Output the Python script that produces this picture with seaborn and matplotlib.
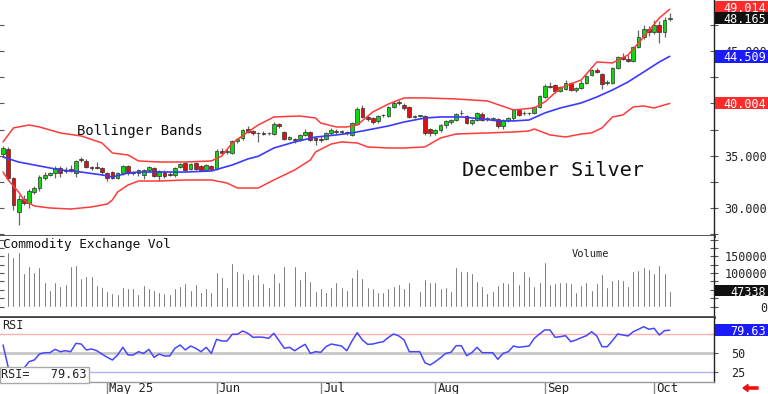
import numpy as np
import pandas as pd
import matplotlib
matplotlib.use("Agg")
import matplotlib.pyplot as plt
import seaborn as sns
from matplotlib.transforms import blended_transform_factory, ScaledTranslation
from matplotlib.patches import Rectangle

# ---------------- data ----------------
opens = [35.2,35.6,32.9,29.6,30.9,30.5,31.5,31.9,32.9,33.2,
         33.3,33.8,33.5,33.7,33.3,34.7,34.5,33.9,33.9,33.8,
         33.3,33.4,32.9,33.3,34.0,33.4,33.3,33.2,33.6,33.8,
         33.1,33.4,33.25,33.2,33.9,34.3,33.7,34.3,34.0,33.6,
         34.0,33.7,35.5,35.4,35.3,36.4,36.7,37.6,37.4,37.2,
         37.2,37.2,37.1,38.0,37.3,36.6,36.6,36.6,37.0,37.3,
         36.7,36.6,36.6,37.2,37.4,37.3,37.3,37.0,38.0,39.6,
         38.7,38.6,38.3,38.9,38.8,39.7,40.1,39.9,39.7,38.75,
         38.8,38.8,37.6,37.2,37.5,37.9,38.2,38.4,39.1,38.8,
         38.1,38.4,39.0,38.5,38.55,38.5,37.8,38.4,38.6,39.4,
         39.1,39.1,39.1,39.7,40.6,41.7,41.8,41.2,41.4,42.0,
         41.3,41.5,42.0,42.7,43.2,42.8,42.0,42.0,43.4,44.4,
         44.3,44.1,45.4,46.4,47.1,46.8,47.5,46.8,48.1]
highs = [35.9,35.8,33.0,31.2,31.2,31.8,32.1,33.2,33.4,33.4,
         34.0,34.0,33.9,34.1,34.6,34.9,34.7,34.0,34.4,33.9,
         33.4,33.5,33.4,34.1,34.1,33.5,33.7,33.7,34.0,33.9,
         33.6,33.6,33.4,33.9,34.3,34.4,34.3,34.4,34.1,34.2,
         34.1,35.6,35.7,35.6,36.5,36.7,37.6,37.8,37.5,37.3,
         37.4,37.3,38.2,38.1,37.4,36.9,36.7,37.1,37.6,37.4,
         36.8,36.9,37.3,37.7,37.6,37.5,37.4,38.2,39.7,39.9,
         38.9,38.7,38.9,39.0,39.8,40.2,40.3,40.0,39.8,38.9,
         38.9,38.9,37.7,37.6,38.0,38.4,38.5,39.1,39.4,38.9,
         38.5,39.2,39.2,38.7,38.7,38.6,38.5,38.7,39.5,39.5,
         39.3,39.2,39.8,40.8,41.9,42.1,41.9,41.7,42.2,42.1,
         41.6,42.2,42.7,43.3,43.4,42.9,42.2,43.5,44.5,44.8,
         44.6,45.5,47.0,47.5,47.4,48.0,47.9,48.3,48.66]
lows = [35.0,32.7,29.8,28.4,30.3,30.0,31.3,31.6,32.7,33.1,
        32.9,33.0,33.3,33.4,33.0,34.4,33.8,33.6,33.7,33.2,
        32.6,32.8,32.8,33.2,33.2,33.2,33.1,32.8,33.4,33.0,
        32.6,32.9,33.1,33.0,33.8,33.5,33.6,33.6,33.5,33.5,
        33.6,33.6,35.1,35.2,35.2,36.2,36.5,37.2,37.0,36.3,
        37.0,37.0,37.0,37.7,36.5,36.5,36.2,36.4,36.9,36.4,
        36.0,36.3,36.5,37.0,37.1,37.1,37.0,36.9,37.9,38.6,
        38.3,38.0,38.1,38.7,38.7,39.6,39.9,39.4,38.6,38.6,
        38.7,37.0,36.9,37.0,37.3,37.7,38.0,38.3,38.9,38.0,
        37.9,38.3,38.3,38.3,38.4,37.7,37.6,38.2,38.4,38.8,
        38.9,38.9,39.0,39.6,40.5,41.5,41.0,41.1,41.3,41.2,
        41.1,41.4,41.9,42.6,42.9,41.4,41.8,41.9,43.3,44.2,
        44.0,44.0,45.3,46.2,46.5,46.6,45.8,46.4,47.9]
closes = [35.7,32.9,30.3,30.9,30.5,31.6,31.9,33.0,33.2,33.3,
          33.8,33.3,33.6,33.5,34.5,34.6,33.9,33.8,33.85,33.4,
          32.9,32.9,33.3,34.0,33.3,33.35,33.6,33.6,33.9,33.1,
          33.5,33.1,33.2,33.8,34.2,33.6,34.2,33.7,33.6,34.1,
          33.7,35.5,35.3,35.5,36.4,36.6,37.5,37.3,37.2,37.15,
          37.1,37.15,38.0,37.8,36.6,36.8,36.5,37.0,37.3,36.5,
          36.5,36.5,37.2,37.5,37.3,37.4,37.2,38.1,39.5,38.7,
          38.5,38.2,38.8,38.85,39.7,40.0,40.0,39.6,38.7,38.8,
          38.85,37.2,37.2,37.5,37.9,38.3,38.4,39.0,39.05,38.1,
          38.4,39.1,38.4,38.6,38.6,37.8,38.4,38.6,39.4,38.9,
          39.05,39.05,39.7,40.7,41.7,41.6,41.2,41.6,42.0,41.3,
          41.5,42.0,42.6,43.2,43.0,41.9,42.05,43.4,44.4,44.3,
          44.1,45.4,46.4,47.1,46.8,47.5,46.8,48.0,48.165]

volume_k = [np.nan,
            164,149,164,99,121,104,119,74,49,74,61,67,121,125,84,91,91,64,57,46,
            41,36,57,54,54,36,64,54,49,44,41,36,54,61,69,49,66,44,54,44,
            104,89,59,129,107,101,83,97,
            96,71,57,99,72,121,119,121,82,106,76,46,54,42,57,72,57,49,87,112,
            86,59,56,44,42,54,61,67,54,72,49,46,81,72,72,54,57,46,119,106,
            106,101,76,62,41,46,64,74,69,
            106,67,106,92,62,72,132,67,69,72,72,71,42,64,74,49,69,96,57,79,
            82,79,62,106,109,119,112,101,124,101,47.338]

rsi = [60.1,30.7,18.0,20.0,29.4,38.2,40.4,48.3,50.0,50.0,
       54.4,51.3,52.6,51.3,62.3,61.4,53.6,54.9,52.6,48.3,
       43.9,40.4,47.0,57.1,47.0,47.0,51.3,49.1,54.4,43.9,
       48.3,45.7,45.7,55.8,60.1,53.6,58.8,55.8,51.3,57.1,
       49.1,67.6,65.4,65.4,74.2,74.2,78.6,75.5,70.2,70.6,
       70.2,68.9,75.5,65.8,55.8,57.1,52.6,57.1,61.0,49.1,
       51.3,50.5,57.9,61.4,60.1,58.8,52.6,65.4,76.3,66.7,
       61.0,61.4,63.2,64.5,70.2,74.6,72.0,66.7,51.3,51.3,
       51.3,36.8,33.8,38.2,43.4,49.1,50.5,59.2,59.2,46.1,
       50.0,57.1,50.0,50.0,50.0,41.3,49.1,51.3,58.8,57.1,
       57.9,58.8,68.9,74.6,79.9,79.9,70.2,71.1,72.4,64.5,
       66.7,69.7,72.4,77.6,72.0,57.9,57.9,65.8,74.6,73.3,
       72.0,77.6,80.8,84.2,80.8,82.1,73.3,79.0,79.63]

upper_idx = [0,2,5,7,11,15,19,21,24,26,30,35,40,42,44,47,49,52,57,60,
             61,64,66,68,71,74,77,81,87,93,98,102,104,107,111,114,117,120,123,126,128]
upper_val = [36.32,37.66,37.94,37.75,37.18,36.89,36.22,35.26,35.07,34.50,
             34.40,34.40,34.50,34.98,36.22,37.27,37.94,38.71,38.80,38.61,
             38.13,37.75,37.75,37.94,39.19,39.95,40.53,40.53,40.43,40.24,
             39.38,39.57,40.14,41.48,42.25,43.97,43.88,44.64,46.36,48.18,49.014]
mid_idx = [0,3,7,11,15,19,21,24,26,30,35,40,42,44,47,49,52,56,60,64,
           67,71,74,77,81,84,88,92,95,98,101,104,107,111,114,117,120,123,126,128]
mid_val = [34.88,34.40,34.02,33.64,33.44,33.16,32.97,33.35,33.44,33.44,
           33.44,33.54,33.83,34.11,34.69,34.95,35.74,36.32,36.79,36.99,
           37.18,37.56,37.85,38.23,38.61,38.71,38.71,38.52,38.33,38.33,
           38.42,39.09,39.57,40.05,40.62,41.29,42.06,43.01,43.97,44.509]
lower_idx = [0,1,3,4,6,9,13,17,20,21,22,24,26,30,35,40,43,45,49,52,
             56,59,60,63,65,68,70,74,77,81,84,87,93,98,101,102,105,108,111,113,
             115,117,119,121,123,125,128]
lower_val = [33.44,32.68,31.53,30.77,30.19,30.00,29.90,30.10,30.38,30.77,
             31.53,32.20,32.58,32.58,32.68,32.68,32.39,31.91,31.91,32.68,
             33.64,34.59,35.36,36.12,36.32,36.22,35.84,35.74,35.74,35.84,
             36.70,37.08,37.18,37.27,37.37,37.56,36.99,36.79,37.08,37.18,
             37.66,38.71,38.90,39.67,39.76,39.57,40.004]

month_idx = [20, 41, 61, 83, 104, 125]
month_labels = ["May 25", "Jun", "Jul", "Aug", "Sep", "Oct"]
price_ticks = [30, 35, 40, 45]
price_labels = ["30.000", "35.000", "", "45.000"]   # 40.000 sits under the 40.004 tag
vol_ticks = [0, 50000, 100000, 150000, 200000]
vol_labels = ["0", "", "100000", "150000", ""]      # 50000 sits under the volume tag
rsi_ticks = [25, 50, 75]
rsi_labels = ["25", "50", ""]                       # 75 sits under the RSI tag

last_upper, last_close, last_mid, last_lower = 49.014, 48.165, 44.509, 40.004
last_vol, last_rsi = 47338, 79.63

# ---------------- style ----------------
sns.set_theme(style="white")
plt.rcParams['font.family'] = ['DejaVu Sans Mono', 'DejaVu Sans']
plt.rcParams['axes.axisbelow'] = True

W, H = 768, 394
fig = plt.figure(figsize=(W / 100, H / 100), dpi=100)
fig.patch.set_facecolor('white')


def rect(top, bottom, right=714):
    return [0, 1 - bottom / H, right / W, (bottom - top) / H]


ax_p = fig.add_axes(rect(0, 236))
ax_v = fig.add_axes(rect(236, 317))
ax_r = fig.add_axes(rect(317.5, 381.5))

n = len(closes)
df = pd.DataFrame({"i": np.arange(n), "open": opens, "high": highs,
                   "low": lows, "close": closes,
                   "vol": np.array(volume_k, dtype=float) * 1000, "rsi": rsi})

XLIM = (-0.58, 136.5)
for ax in (ax_p, ax_v, ax_r):
    ax.set_xlim(*XLIM)
    ax.set_facecolor('white')
    for s in ('top', 'left'):
        ax.spines[s].set_visible(False)
    ax.spines['right'].set_color('#222222')
    ax.spines['right'].set_linewidth(1.0)

# ---------------- price panel ----------------
up = df["close"] >= df["open"]
ax_p.vlines(df["i"], df["low"], df["high"], color='#666666', lw=0.9, zorder=2)
body_lo = np.minimum(df["open"], df["close"])
body_h = np.maximum((df["close"] - df["open"]).abs(), 0.06)
ax_p.bar(df["i"], body_h, bottom=body_lo, width=0.72,
         color=np.where(up, '#10d810', '#e01010'),
         edgecolor='#303030', linewidth=0.5, zorder=3)

sns.lineplot(x=upper_idx, y=upper_val, ax=ax_p, color='#ff3a3a', lw=1.1, zorder=4)
sns.lineplot(x=lower_idx, y=lower_val, ax=ax_p, color='#ff3a3a', lw=1.1, zorder=4)
sns.lineplot(x=mid_idx, y=mid_val, ax=ax_p, color='#3a3aff', lw=1.2, zorder=4)

ax_p.set_ylim(27.32, 49.90)
ax_p.set_xticks([])
ax_p.set_yticks(price_ticks)
ax_p.set_yticks(np.arange(27.5, 50, 2.5), minor=True)
ax_p.set_yticklabels(price_labels)
ax_p.tick_params(axis='y', which='both', left=True, right=True, labelleft=False,
                 labelright=True, direction='inout', length=6, width=0.8,
                 color='#555555', labelsize=8.5, pad=4.5, labelcolor='#222222')
ax_p.spines['bottom'].set_color('#444444')
ax_p.spines['bottom'].set_linewidth(2)
ax_p.set_xlabel("")
ax_p.set_ylabel("")

ax_p.text(14.2, 37.37, "Bollinger Bands", ha='left', va='center',
          fontsize=10, color='#111111')
ax_p.text(88.1, 33.54, "December Silver", ha='left', va='center',
          fontsize=14.5, color='#111111')

# ---------------- volume panel ----------------
ax_v.bar(df["i"], df["vol"], width=0.38, color='#303030', zorder=2)
ax_v.set_ylim(-31400, 211000)
ax_v.set_xticks([])
ax_v.set_yticks(vol_ticks)
ax_v.set_yticks(np.arange(0, 210000, 25000), minor=True)
ax_v.set_yticklabels(vol_labels)
ax_v.tick_params(axis='y', which='both', left=True, right=True, labelleft=False,
                 labelright=True, direction='inout', length=6, width=0.8,
                 color='#555555', labelsize=8.5, pad=35.3, labelcolor='#222222')
for lbl in ax_v.get_yticklabels():
    lbl.set_horizontalalignment('right')
ax_v.spines['bottom'].set_color('#444444')
ax_v.spines['bottom'].set_linewidth(2)
tr_v = blended_transform_factory(ax_v.transAxes, ax_v.transData)
ax_v.text(0.004, 187000, "Commodity Exchange Vol", transform=tr_v,
          ha='left', va='center', fontsize=9.2, color='#111111')
ax_v.text(109.2, 157000, "Volume", ha='left', va='center',
          fontsize=7.5, color='#222222')

# ---------------- RSI panel ----------------
ax_r.axhline(75, color='#ffb0b0', lw=1, zorder=1)
ax_r.axhline(50, color='#c8c8c8', lw=2, zorder=1)
ax_r.axhline(25, color='#b0b0ff', lw=1, zorder=1)
sns.lineplot(data=df, x="i", y="rsi", ax=ax_r, color='#4646ff', lw=1.1, zorder=3)
ax_r.set_ylim(12.1, 96.3)
ax_r.set_yticks(rsi_ticks)
ax_r.set_yticklabels(rsi_labels)
ax_r.tick_params(axis='y', which='both', left=True, right=True, labelleft=False,
                 labelright=True, direction='inout', length=6, width=0.8,
                 color='#555555', labelsize=8.5, pad=9.4, labelcolor='#222222')
ax_r.set_xticks(month_idx)
ax_r.set_xticklabels([""] * len(month_idx))
ax_r.tick_params(axis='x', which='major', bottom=True, direction='out',
                 length=9.4, width=1, color='#888888')
ax_r.spines['bottom'].set_color('#999999')
ax_r.spines['bottom'].set_linewidth(1)
ax_r.set_xlabel("")
ax_r.set_ylabel("")
for m, lab in zip(month_idx, month_labels):
    ax_r.annotate(lab, xy=(m, 0), xycoords=('data', 'axes fraction'),
                  xytext=(1.6, -5.0), textcoords='offset points',
                  ha='left', va='center', fontsize=8.8, color='#222222',
                  annotation_clip=False)

tr_r = blended_transform_factory(ax_r.transAxes, ax_r.transData)
ax_r.text(0.003, 86.4, "RSI", transform=tr_r, ha='left', va='center',
          fontsize=8.5, color='#222222')
ax_r.text(0.002, 20.7, "RSI=   79.63", transform=tr_r, ha='left', va='center',
          fontsize=8.5, color='#222222', zorder=10,
          bbox=dict(boxstyle='square,pad=0.15', fc='white', ec='#aaaaaa', lw=1))


# ---------------- right-hand value tags ----------------
def tag(ax, yval, text, color, h, shift_pt=0.0):
    tr = blended_transform_factory(ax.transAxes, ax.transData)
    off = ScaledTranslation(0, shift_pt / 72, fig.dpi_scale_trans)
    ax.add_patch(Rectangle((715 / 714, yval - h / 2), 53 / 714, h,
                           transform=tr + off, facecolor=color,
                           edgecolor='none', clip_on=False, zorder=20))
    ax.text(766 / 714, yval, text, transform=tr + off, ha='right',
            va='center_baseline', color='white', fontsize=8.5, zorder=21,
            clip_on=False)


tag(ax_p, last_upper, f"{last_upper:.3f}", '#ff2a2a', 1.1, shift_pt=1.8)
tag(ax_p, last_close, f"{last_close:.3f}", '#111111', 1.1)
tag(ax_p, last_mid, f"{last_mid:.3f}", '#1a1aff', 1.25)
tag(ax_p, last_lower, f"{last_lower:.3f}", '#ff2a2a', 1.15)
tag(ax_v, last_vol, f"{last_vol}", '#111111', 34000)
tag(ax_r, last_rsi, f"{last_rsi:.2f}", '#1a1aff', 15.8)

# small red arrow bottom-right
fig.patches.append(matplotlib.patches.FancyArrow(
    758 / W, 6 / H, -10 / W, 0, width=2.2 / H, head_width=7 / H,
    head_length=5 / W, color='#ee1111', transform=fig.transFigure, figure=fig))

fig.savefig("out.png", dpi=100)
